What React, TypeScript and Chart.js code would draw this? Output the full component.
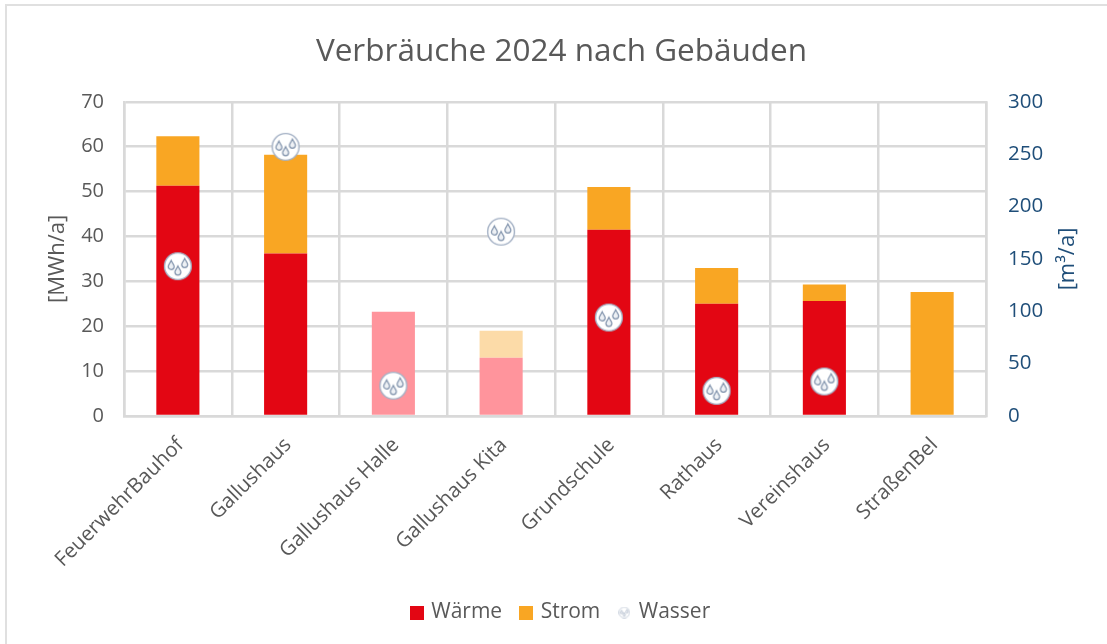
import React, { useEffect, useRef } from "react";
import { Chart, registerables } from "chart.js";

Chart.register(...registerables);

const categories = ["FeuerwehrBauhof", "Gallushaus", "Gallushaus Halle", "Gallushaus Kita", "Grundschule", "Rathaus", "Vereinshaus", "StraßenBel"];
const waerme = [51.3, 36.2, 23.2, 13, 41.5, 25, 25.6, 0];
const strom = [11, 22, 0, 6, 9.5, 8, 3.7, 27.6];
const wasser = [143, 257, 29, 176, 94, 24, 33, null];
const waermeColors = ["#e30613", "#e30613", "#ff949c", "#ff949c", "#e30613", "#e30613", "#e30613", "#e30613"];
const stromColors = ["#f9a623", "#f9a623", "#f9a623", "#fcdba8", "#f9a623", "#f9a623", "#f9a623", "#f9a623"];
const chartTitle = "Verbräuche 2024 nach Gebäuden";
const leftAxisTitle = "[MWh/a]";
const rightAxisTitle = "[m³/a]";
const fontFamily = "'Open Sans'";
const GREY = "#595959";
const BLUE = "#1f4e79";
const GRID = "#d9d9d9";

function drop(c: CanvasRenderingContext2D, x: number, y: number, r: number) {
  c.beginPath();
  c.moveTo(x, y - r * 1.9);
  c.bezierCurveTo(x + r * 0.5, y - r * 0.8, x + r, y - r * 0.4, x + r, y + r * 0.1);
  c.arc(x, y + r * 0.1, r, 0, Math.PI);
  c.bezierCurveTo(x - r, y - r * 0.4, x - r * 0.5, y - r * 0.8, x, y - r * 1.9);
  c.closePath();
  c.fillStyle = "#eef1f5";
  c.fill();
  c.strokeStyle = "#8294ad";
  c.lineWidth = 1.2;
  c.stroke();
}

function waterIcon(size: number) {
  const cv = document.createElement("canvas");
  cv.width = size;
  cv.height = size;
  const c = cv.getContext("2d")!;
  const k = size / 30;
  c.scale(k, k);
  c.beginPath();
  c.arc(15, 15, 13.4, 0, Math.PI * 2);
  c.fillStyle = "#ffffff";
  c.fill();
  c.strokeStyle = "#a3b0c4";
  c.lineWidth = 1.4;
  c.stroke();
  drop(c, 8.3, 15, 3);
  drop(c, 21.8, 13, 3);
  drop(c, 15, 20.5, 3);
  return cv;
}

function squareIcon(color: string) {
  const cv = document.createElement("canvas");
  cv.width = 14;
  cv.height = 14;
  const c = cv.getContext("2d")!;
  c.fillStyle = color;
  c.fillRect(0, 0, 14, 14);
  return cv;
}

const framePlugin = {
  id: "frameAndRightTitle",
  beforeDraw(chart: any) {
    const c = chart.ctx;
    c.save();
    c.strokeStyle = "#e0e0e0";
    c.lineWidth = 2;
    c.beginPath();
    c.moveTo(6, 644);
    c.lineTo(6, 5);
    c.lineTo(1107, 5);
    c.stroke();
    c.restore();
  },
  afterDraw(chart: any) {
    const c = chart.ctx;
    c.save();
    c.translate(1068, 259);
    c.rotate(-Math.PI / 2);
    c.font = `22px ${fontFamily}`;
    c.fillStyle = BLUE;
    c.textAlign = "center";
    c.textBaseline = "middle";
    c.fillText(rightAxisTitle, 0, 0);
    c.restore();
  },
};

export default function App() {
  const ref = useRef<HTMLCanvasElement>(null);
  useEffect(() => {
    const icons = [squareIcon("#e30613"), squareIcon("#f9a623"), waterIcon(12)];
    const chart = new Chart(ref.current!, {
      type: "bar",
      plugins: [framePlugin],
      data: {
        labels: categories,
        datasets: [
          { type: "line", label: "Wasser", data: wasser, yAxisID: "y1", showLine: false, order: 0, pointStyle: waterIcon(30), pointRadius: 15 } as any,
          { label: "Wärme", data: waerme, backgroundColor: waermeColors, yAxisID: "y", stack: "a", order: 1, barPercentage: 0.4, categoryPercentage: 1 },
          { label: "Strom", data: strom, backgroundColor: stromColors, yAxisID: "y", stack: "a", order: 2, barPercentage: 0.4, categoryPercentage: 1 },
        ],
      },
      options: {
        responsive: false,
        animation: false,
        layout: { padding: { left: 16, bottom: 11 } },
        plugins: {
          title: {
            display: true,
            text: chartTitle,
            color: GREY,
            font: { family: fontFamily, size: 31.5, weight: "normal" },
            padding: { top: 33, bottom: 31 },
          },
          tooltip: { enabled: false },
          legend: {
            position: "bottom",
            labels: {
              usePointStyle: true,
              pointStyleWidth: 8,
              color: GREY,
              font: { family: fontFamily, size: 21 },
              padding: 20,
              generateLabels: () =>
                ["Wärme", "Strom", "Wasser"].map((t, i) => ({
                  text: t,
                  fontColor: GREY,
                  pointStyle: icons[i],
                  datasetIndex: i,
                  lineWidth: 0,
                  strokeStyle: "transparent",
                  fillStyle: "transparent",
                })),
            },
          },
        },
        scales: {
          x: {
            stacked: true,
            border: { display: true, color: GRID, width: 2.5 },
            grid: { color: GRID, lineWidth: 2.5, drawTicks: false },
            ticks: { color: GREY, font: { family: fontFamily, size: 20.5 }, minRotation: 45, maxRotation: 45, autoSkip: false, padding: 17, labelOffset: 2.5 },
            afterFit: (s: any) => { s.height = 166; },
          },
          y: {
            stacked: true,
            min: 0,
            max: 70,
            position: "left",
            border: { display: true, color: GRID, width: 2.5 },
            grid: { color: GRID, lineWidth: 2.5, drawTicks: false },
            ticks: { stepSize: 10, color: GREY, font: { family: fontFamily, size: 20 }, padding: 20 },
            title: { display: true, text: leftAxisTitle, color: GREY, font: { family: fontFamily, size: 22 }, padding: { top: 29, bottom: 0 } },
            afterFit: (s: any) => { s.width = 108; },
          },
          y1: {
            min: 0,
            max: 300,
            position: "right",
            border: { display: true, color: GRID, width: 2.5 },
            grid: { display: false, drawOnChartArea: false, drawTicks: false },
            ticks: { stepSize: 50, color: BLUE, font: { family: fontFamily, size: 20.5 }, padding: 22 },
            afterFit: (s: any) => { s.width = 121; },
          },
        },
      } as any,
    });
    return () => chart.destroy();
  }, []);
  return <canvas ref={ref} width={1107} height={644} style={{ position: "fixed", left: 0, top: 0, display: "block" }} />;
}
